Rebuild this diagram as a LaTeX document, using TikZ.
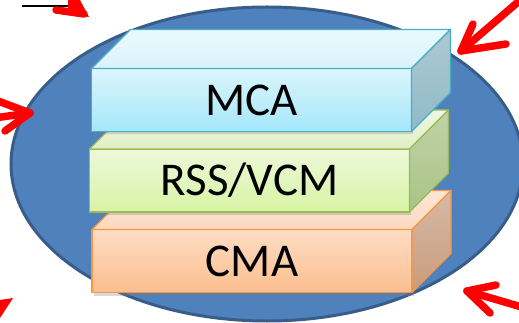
\documentclass[tikz,border=0pt]{standalone}
\usepackage{fontspec}
\setmainfont{Carlito}
\usetikzlibrary{calc,shadows}
\definecolor{ellFill}{HTML}{4F81BD}
\definecolor{ellLine}{HTML}{385D8A}
\definecolor{mcaLine}{HTML}{4BACC6}
\definecolor{mcaFT}{HTML}{DCF5FC}
\definecolor{mcaFB}{HTML}{A4E7FA}
\definecolor{mcaTT}{HTML}{EAFAFE}
\definecolor{mcaTB}{HTML}{D9F3FB}
\definecolor{mcaST}{HTML}{AEC9D2}
\definecolor{mcaSB}{HTML}{8FBAC8}
\definecolor{rssLine}{HTML}{9BBB59}
\definecolor{rssFT}{HTML}{EDF8DA}
\definecolor{rssFB}{HTML}{D7F4A4}
\definecolor{rssTT}{HTML}{EEF6E0}
\definecolor{rssTB}{HTML}{E0F0C6}
\definecolor{rssST}{HTML}{C0D2A8}
\definecolor{rssSB}{HTML}{A9C486}
\definecolor{cmaLine}{HTML}{F79646}
\definecolor{cmaFT}{HTML}{FDDDC4}
\definecolor{cmaFB}{HTML}{FBBE8E}
\definecolor{cmaTT}{HTML}{FDE6D6}
\definecolor{cmaTB}{HTML}{FCD9BE}
\definecolor{cmaST}{HTML}{D6B9A6}
\definecolor{cmaSB}{HTML}{C99C7C}
\begin{document}
\begin{tikzpicture}[x=1pt,y=-1pt,
  face/.style={line width=1.4pt, line join=round},
  front/.style={face, rectangle, inner sep=0pt, outer sep=0pt,
     minimum width=320pt, minimum height=63pt,
     font=\fontsize{47}{50}\selectfont, text=black,
     drop shadow={shadow xshift=1.5pt, shadow yshift=-3pt, opacity=0.3}},
  redarrow/.style={draw=red, line width=7.5pt, line cap=round, line join=round},
]
\useasboundingbox (0,0) rectangle (519,323);
% ellipse
\draw[fill=ellFill, draw=ellLine, line width=3pt] (267,164) ellipse [x radius=256, y radius=157];

% CMA
\node[front, draw=cmaLine, top color=cmaFT, bottom color=cmaFB] (cma) at (252,261) {CMA};
\draw[face, draw=cmaLine, top color=cmaTT, bottom color=cmaTB]
  (cma.north west) -- ($(cma.north west)+(39,-39)$) -- ($(cma.north east)+(39,-39)$) -- (cma.north east) -- cycle;
\draw[face, draw=cmaLine, top color=cmaST, bottom color=cmaSB]
  (cma.north east) -- ($(cma.north east)+(39,-39)$) -- ($(cma.south east)+(39,-39)$) -- (cma.south east) -- cycle;

% RSS/VCM
\node[front, draw=rssLine, top color=rssFT, bottom color=rssFB] (rss) at (249.5,180.5) {RSS/VCM};
\draw[face, draw=rssLine, top color=rssTT, bottom color=rssTB]
  (rss.north west) -- ($(rss.north west)+(39,-39)$) -- ($(rss.north east)+(39,-39)$) -- (rss.north east) -- cycle;
\draw[face, draw=rssLine, top color=rssST, bottom color=rssSB]
  (rss.north east) -- ($(rss.north east)+(39,-39)$) -- ($(rss.south east)+(39,-39)$) -- (rss.south east) -- cycle;

% MCA
\node[front, draw=mcaLine, top color=mcaFT, bottom color=mcaFB] (mca) at (251.5,100) {MCA};
\draw[face, draw=mcaLine, top color=mcaTT, bottom color=mcaTB]
  (mca.north west) -- ($(mca.north west)+(39,-39)$) -- ($(mca.north east)+(39,-39)$) -- (mca.north east) -- cycle;
\draw[face, draw=mcaLine, top color=mcaST, bottom color=mcaSB]
  (mca.north east) -- ($(mca.north east)+(39,-39)$) -- ($(mca.south east)+(39,-39)$) -- (mca.south east) -- cycle;

% arrows
% top left (partly cut off)
\draw[black, line width=2pt] (22,6) -- (70,6);
\fill[red] (68,0) -- (80,0) -- (89,17) -- (68,14) -- cycle;
\draw[redarrow] (56,10) -- (84,14);
% top right
\coordinate (trtip) at (461,51);
\draw[redarrow] (525,-4) -- (trtip);
\draw[redarrow] (473,24) -- (trtip) -- (506,44);
% left
\coordinate (ltip) at (30,113);
\draw[redarrow] (-6,118) -- (ltip);
\draw[redarrow] (-2,101) -- (ltip) -- (5,131);
% bottom left (cut off)
\fill[red] (0,300) -- (13,298) -- (0,318) -- cycle;
% bottom right
\coordinate (brtip) at (467,291);
\draw[redarrow] (525,308) -- (brtip);
\draw[redarrow] (496,285) -- (brtip) -- (490,313);
\end{tikzpicture}
\end{document}
